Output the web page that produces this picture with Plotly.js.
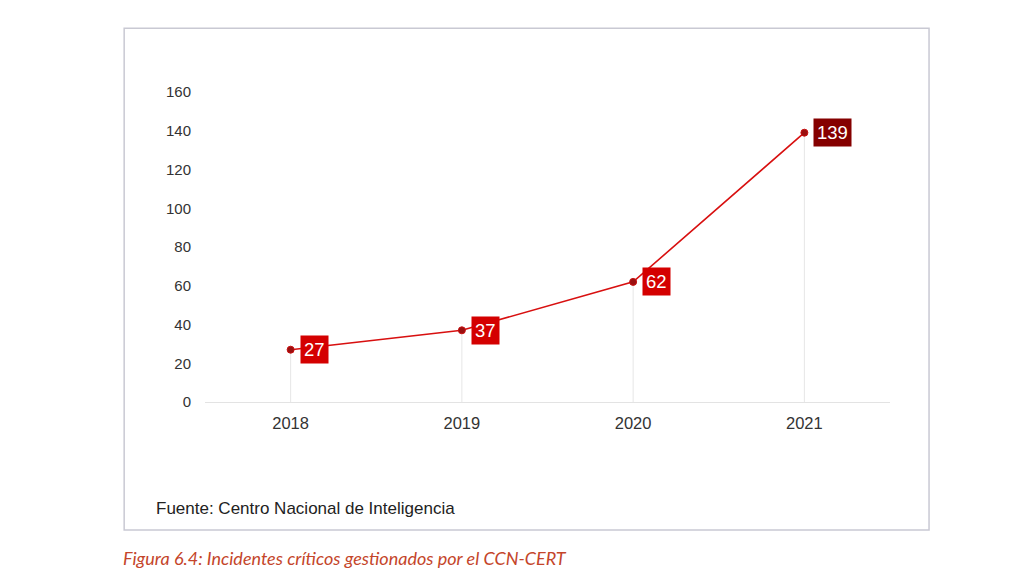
<!DOCTYPE html>
<html>
<head>
<meta charset="utf-8">
<script src="https://cdn.plot.ly/plotly-3.0.1.min.js"></script>
<style>html,body{margin:0;padding:0;background:#fff;}#chart{width:1024px;height:576px;}</style>
</head>
<body>
<div id="chart"></div>
<script>
const years = [2018, 2019, 2020, 2021];
const incidents = [27, 37, 62, 139];
const labelColors = ['#d40000', '#d40000', '#d40000', '#850000'];
const yTicks = [0, 20, 40, 60, 80, 100, 120, 140, 160];
const sourceText = 'Fuente: Centro Nacional de Inteligencia';
const captionText = 'Figura 6.4: Incidentes críticos gestionados por el CCN-CERT';

const traces = [{
  x: years,
  y: incidents,
  type: 'scatter',
  mode: 'lines+markers',
  line: {color: '#d81010', width: 1.6},
  marker: {size: 7, color: '#9a1010', line: {color: '#c81010', width: 1}},
  error_y: {
    type: 'data', symmetric: false,
    array: incidents.map(() => 0),
    arrayminus: incidents,
    color: '#e6e6e6', thickness: 1, width: 0
  },
  hoverinfo: 'x+y'
}];

const annotations = years.map((yr, i) => ({
  x: yr, y: incidents[i], xref: 'x', yref: 'y',
  text: String(incidents[i]), showarrow: false,
  xanchor: 'left', yanchor: 'middle', xshift: 9,
  bgcolor: labelColors[i], borderpad: 3,
  font: {family: 'Liberation Sans, Arial, sans-serif', size: 18.5, color: '#ffffff'}
}));
annotations.push({
  xref: 'paper', yref: 'paper', x: -0.075, y: -0.345,
  xanchor: 'left', yanchor: 'middle', showarrow: false,
  text: sourceText,
  font: {family: 'Liberation Sans, Arial, sans-serif', size: 17, color: '#222222'}
});
annotations.push({
  xref: 'paper', yref: 'paper', x: -0.122, y: -0.503,
  xanchor: 'left', yanchor: 'middle', showarrow: false,
  text: '<i>' + captionText + '</i>',
  font: {family: 'Lato, Open Sans, sans-serif', size: 18, color: '#c4452a'}
});

const layout = {
  width: 1024, height: 576,
  margin: {l: 205, r: 134, t: 92, b: 174},
  paper_bgcolor: '#ffffff', plot_bgcolor: '#ffffff',
  showlegend: false,
  xaxis: {
    range: [2017.5, 2021.5],
    tickvals: years, ticktext: years.map(String),
    showgrid: false, zeroline: false,
    showline: true, linecolor: '#e3e3e3', linewidth: 1,
    ticks: 'outside', ticklen: 6, tickcolor: 'rgba(0,0,0,0)',
    tickfont: {family: 'Liberation Sans, Arial, sans-serif', size: 16.5, color: '#333333'},
    fixedrange: true
  },
  yaxis: {
    range: [0, 160],
    tickvals: yTicks,
    showgrid: false, zeroline: false, showline: false,
    ticks: 'outside', ticklen: 10, tickcolor: 'rgba(0,0,0,0)',
    tickfont: {family: 'Liberation Sans, Arial, sans-serif', size: 15, color: '#333333'},
    fixedrange: true
  },
  shapes: [{
    type: 'rect', xref: 'paper', yref: 'paper',
    x0: -0.118, x1: 1.057, y0: -0.413, y1: 1.206,
    line: {color: '#c9c9d3', width: 1.5}, fillcolor: 'rgba(0,0,0,0)', layer: 'below'
  }],
  annotations: annotations
};

Plotly.newPlot('chart', traces, layout, {displayModeBar: false, staticPlot: true});
</script>
</body>
</html>
